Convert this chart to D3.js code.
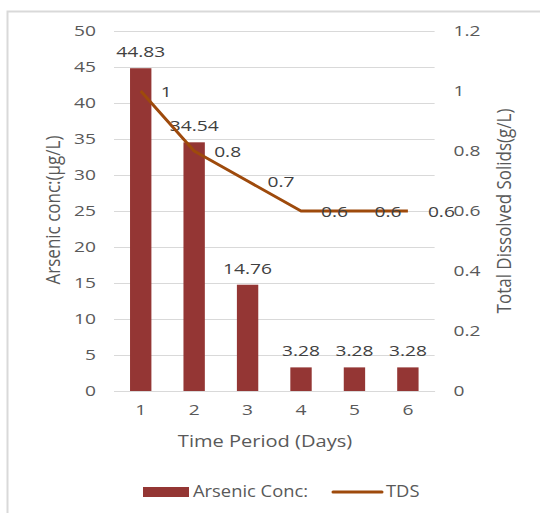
<!DOCTYPE html>
<html>
<head>
<meta charset="utf-8">
<script src="https://cdn.jsdelivr.net/npm/d3@7"></script>
<style>
  body { margin: 0; background: #fff; }
  svg { display: block; font-family: "Open Sans", sans-serif; }
</style>
</head>
<body>
<svg id="chart" width="540" height="513"></svg>
<script>
// chart data
var days = [1, 2, 3, 4, 5, 6];
var arsenic = [44.83, 34.54, 14.76, 3.28, 3.28, 3.28];
var tds = [1, 0.8, 0.7, 0.6, 0.6, 0.6];
var leftTicks = [0, 5, 10, 15, 20, 25, 30, 35, 40, 45, 50];
var rightTicks = [0, 0.2, 0.4, 0.6, 0.8, 1, 1.2];

var barColor = '#943634';
var lineColor = '#9e4a0c';
var tickColor = '#595959';
var labelColor = '#404040';
var gridColor = '#d9d9d9';

// the original text is wider than Open Sans, so stretch it sideways
var numStretch = 1.28;

var svg = d3.select('#chart');
var plot = { left: 114, right: 434.6, top: 31, bottom: 391 };

// move x/y of a text into a transform and widen it
function stretch(sel, sx) {
  sel.each(function() {
    var t = d3.select(this);
    var tx = +t.attr('x') || 0;
    var ty = +t.attr('y') || 0;
    t.attr('x', 0).attr('y', 0)
     .attr('transform', `translate(${tx},${ty}) scale(${sx},1)`);
  });
}

// frame round the chart area
svg.append('rect')
  .attr('x', 7.5).attr('y', 11.5)
  .attr('width', 560).attr('height', 540)
  .attr('fill', 'none')
  .attr('stroke', gridColor)
  .attr('stroke-width', 2);

var x = d3.scaleBand()
  .domain(days)
  .range([plot.left, plot.right])
  .paddingInner(0.6)
  .paddingOuter(0.3);

var yLeft = d3.scaleLinear().domain([0, 50]).range([plot.bottom, plot.top]);
var yRight = d3.scaleLinear().domain([0, 1.2]).range([plot.bottom, plot.top]);

// gridlines
svg.append('g')
  .attr('class', 'grid')
  .attr('transform', `translate(${plot.left},0)`)
  .call(d3.axisLeft(yLeft).tickValues(leftTicks).tickSize(-(plot.right - plot.left)).tickFormat(''))
  .call(g => g.select('.domain').remove())
  .call(g => g.selectAll('line').attr('stroke', gridColor).attr('stroke-width', 1));

// left axis labels
svg.append('g')
  .attr('transform', `translate(${plot.left},0)`)
  .call(d3.axisLeft(yLeft).tickValues(leftTicks).tickSize(0).tickPadding(18))
  .call(g => g.select('.domain').remove())
  .call(g => g.selectAll('text')
    .attr('fill', tickColor)
    .style('font-size', '15px')
    .style('font-family', '"Open Sans", sans-serif')
    .call(stretch, numStretch));

// right axis labels
svg.append('g')
  .attr('transform', `translate(${plot.right},0)`)
  .call(d3.axisRight(yRight).tickValues(rightTicks).tickSize(0).tickPadding(19)
    .tickFormat(d => d3.format('~g')(d)))
  .call(g => g.select('.domain').remove())
  .call(g => g.selectAll('text')
    .attr('fill', tickColor)
    .style('font-size', '15px')
    .style('font-family', '"Open Sans", sans-serif')
    .call(stretch, numStretch));

// bottom axis labels
svg.append('g')
  .attr('transform', `translate(0,${plot.bottom})`)
  .call(d3.axisBottom(x).tickSize(0).tickPadding(13))
  .call(g => g.select('.domain').attr('stroke', gridColor))
  .call(g => g.selectAll('text')
    .attr('fill', tickColor)
    .style('font-size', '15px')
    .style('font-family', '"Open Sans", sans-serif')
    .call(stretch, numStretch));

// bars
svg.append('g').selectAll('rect')
  .data(arsenic)
  .enter()
  .append('rect')
  .attr('x', (d, i) => x(days[i]))
  .attr('y', d => yLeft(d))
  .attr('width', x.bandwidth())
  .attr('height', d => yLeft(0) - yLeft(d))
  .attr('fill', barColor);

// bar labels
svg.append('g').selectAll('text')
  .data(arsenic)
  .enter()
  .append('text')
  .attr('x', (d, i) => x(days[i]) + x.bandwidth() / 2)
  .attr('y', d => yLeft(d) - 11)
  .attr('text-anchor', 'middle')
  .attr('fill', labelColor)
  .style('font-size', '15px')
  .text(d => d)
  .call(stretch, numStretch);

// TDS line
var line = d3.line()
  .x((d, i) => x(days[i]) + x.bandwidth() / 2)
  .y(d => yRight(d));

svg.append('path')
  .datum(tds)
  .attr('d', line)
  .attr('fill', 'none')
  .attr('stroke', lineColor)
  .attr('stroke-width', 3)
  .attr('stroke-linejoin', 'round');

// line labels, to the right of each point
svg.append('g').selectAll('text')
  .data(tds)
  .enter()
  .append('text')
  .attr('x', (d, i) => x(days[i]) + x.bandwidth() / 2 + 20)
  .attr('y', d => yRight(d) + 6)
  .attr('fill', labelColor)
  .style('font-size', '15px')
  .text(d => d)
  .call(stretch, numStretch);

// axis titles (rotated ones are widened across the glyphs)
svg.append('text')
  .attr('transform', 'translate(60,210) rotate(-90) scale(1,1.2)')
  .attr('text-anchor', 'middle')
  .attr('fill', tickColor)
  .style('font-size', '17px')
  .text('Arsenic conc:(µg/L)');

svg.append('text')
  .attr('transform', 'translate(511,211) rotate(-90) scale(1,1.2)')
  .attr('text-anchor', 'middle')
  .attr('fill', tickColor)
  .style('font-size', '17px')
  .text('Total Dissolved Solids(g/L)');

svg.append('text')
  .attr('x', 265)
  .attr('y', 447)
  .attr('text-anchor', 'middle')
  .attr('fill', tickColor)
  .style('font-size', '17px')
  .text('Time Period (Days)')
  .call(stretch, 1.18);

// legend
var legend = svg.append('g');
legend.append('rect')
  .attr('x', 143).attr('y', 487)
  .attr('width', 46).attr('height', 10)
  .attr('fill', barColor);
legend.append('text')
  .attr('x', 193).attr('y', 497)
  .attr('fill', tickColor)
  .style('font-size', '17px')
  .text('Arsenic Conc:')
  .call(stretch, 1.08);
legend.append('line')
  .attr('x1', 333).attr('x2', 382)
  .attr('y1', 492).attr('y2', 492)
  .attr('stroke', lineColor)
  .attr('stroke-width', 3)
  .attr('stroke-linecap', 'round');
legend.append('text')
  .attr('x', 386).attr('y', 497)
  .attr('fill', tickColor)
  .style('font-size', '17px')
  .text('TDS')
  .call(stretch, 1.08);
</script>
</body>
</html>
